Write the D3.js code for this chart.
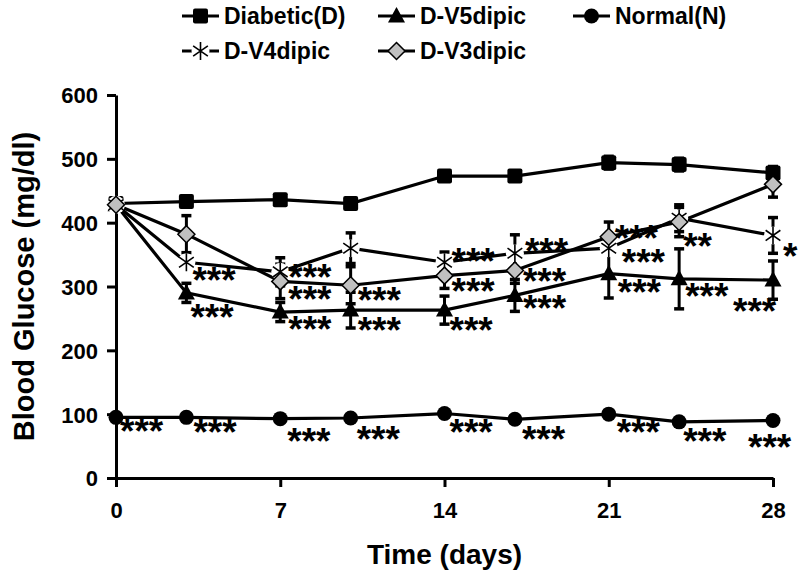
<!DOCTYPE html>
<html><head><meta charset="utf-8">
<script src="https://cdn.jsdelivr.net/npm/d3@7"></script>
<style>
body{margin:0;background:#fff}
text{font-family:"Liberation Sans",Arial,sans-serif;font-weight:bold;fill:#000}
</style>
</head><body>
<svg id="chart" width="800" height="585"></svg>
<script>
// ---- data ----
const days = [0, 3, 7, 10, 14, 17, 21, 24, 28];
const diabetic = [430, 433, 436, 430, 473, 473, 494, 491, 478];
const diabeticErr = [6, 8, 8, 8, 8, 8, 10, 10, 10];
const v5 = [428, 290, 260, 263, 263, 286, 320, 312, 310];
const v5Err = [0, 15, 15, 28, 22, 25, 38, 47, 30];
const normal = [95, 95, 93, 94, 101, 92, 100, 88, 90];
const normalErr = [3, 3, 3, 3, 3, 3, 3, 3, 3];
const v4 = [428, 338, 323, 360, 338, 352, 360, 407, 380];
const v4Err = [0, 0, 22, 24, 16, 29, 0, 21, 28];
const v3 = [428, 382, 308, 302, 317, 325, 378, 401, 460];
const v3Err = [0, 29, 27, 29, 20, 20, 23, 23, 20];
const seriesNames = ["Diabetic(D)", "D-V5dipic", "Normal(N)", "D-V4dipic", "D-V3dipic"];
const normalSig = ["***", "***", "***", "***", "***", "***", "***", "***", "***"];
const v5Sig = ["", "***", "***", "***", "***", "***", "***", "***", "***"];
const v4Sig = ["", "***", "***", "", "***", "***", "***", "**", "*"];
const v3Sig = ["", "", "***", "***", "***", "***", "***", "", ""];
const xTicks = [0, 7, 14, 21, 28];
const yTicks = [0, 100, 200, 300, 400, 500, 600];
const xTitle = "Time (days)";
const yTitle = "Blood Glucose (mg/dl)";

// ---- layout (pixel offsets of significance labels relative to their point) ----
const sigOffsets = {
  normal: [[4,6],[7,7],[7,14],[6,13],[5,10],[7,12],[8,10],[4,11],[-25,18]],
  v5: [[0,0],[4,16],[8,9],[7,12],[5,12],[8,5],[9,10],[6,9],[-40,23]],
  v4: [[0,0],[6,10],[8,-3],[0,0],[7,-9],[10,-10],[13,6],[4,20],[10,13]],
  v3: [[0,0],[0,0],[8,10],[7,7],[7,7],[8,2],[6,-7],[0,0],[0,0]]
};

const svg = d3.select("#chart");
const x = d3.scaleLinear().domain([0, 28]).range([116, 773]);
const y = d3.scaleLinear().domain([0, 600]).range([478, 95]);

// axes
const gy = svg.append("g").attr("transform", `translate(${x(0)},0)`)
  .call(d3.axisLeft(y).tickValues(yTicks).tickSize(9).tickSizeOuter(0).tickPadding(9));
gy.select(".domain").attr("stroke-width", 3).attr("stroke", "#000");
gy.selectAll(".tick line").attr("stroke-width", 3).attr("stroke", "#000");
gy.selectAll(".tick text").style("font-size", "22px").attr("dy", "0.36em");

const gx = svg.append("g").attr("transform", `translate(0,${y(0)})`)
  .call(d3.axisBottom(x).tickValues(xTicks).tickSize(9).tickSizeOuter(0).tickPadding(15));
gx.select(".domain").attr("stroke-width", 3).attr("stroke", "#000");
gx.selectAll(".tick line").attr("stroke-width", 3).attr("stroke", "#000");
gx.selectAll(".tick text").style("font-size", "22px");

svg.append("text").attr("x", (x(0) + x(28)) / 2).attr("y", 564)
  .attr("text-anchor", "middle").style("font-size", "28px").text(xTitle);
svg.append("text").attr("transform", `translate(34,${(y(0) + y(600)) / 2}) rotate(-90)`)
  .attr("text-anchor", "middle").style("font-size", "29px").text(yTitle);

// marker drawing
function drawMarker(g, type, cx, cy) {
  if (type === "square") {
    g.append("rect").attr("x", cx - 7.5).attr("y", cy - 7.5).attr("width", 15).attr("height", 15)
      .attr("rx", 2).attr("fill", "#000");
  } else if (type === "triangle") {
    g.append("path").attr("d", `M${cx},${cy - 9}L${cx + 8.5},${cy + 6.5}L${cx - 8.5},${cy + 6.5}Z`).attr("fill", "#000");
  } else if (type === "circle") {
    g.append("circle").attr("cx", cx).attr("cy", cy).attr("r", 7.5).attr("fill", "#000");
  } else if (type === "star") {
    g.append("circle").attr("cx", cx).attr("cy", cy).attr("r", 9).attr("fill", "#fff");
    const r = 9, a = 0.96;
    g.append("path").attr("d",
      `M${cx},${cy - r}L${cx},${cy + r}` +
      `M${cx - r * Math.sin(a)},${cy - r * Math.cos(a)}L${cx + r * Math.sin(a)},${cy + r * Math.cos(a)}` +
      `M${cx + r * Math.sin(a)},${cy - r * Math.cos(a)}L${cx - r * Math.sin(a)},${cy + r * Math.cos(a)}`)
      .attr("stroke", "#000").attr("stroke-width", 1.6).attr("fill", "none");
  } else if (type === "diamond") {
    g.append("path").attr("d", `M${cx},${cy - 8.5}L${cx + 8.5},${cy}L${cx},${cy + 8.5}L${cx - 8.5},${cy}Z`)
      .attr("fill", "#c0c0c0").attr("stroke", "#000").attr("stroke-width", 1.5);
  }
}

const series = [
  {key: "diabetic", vals: diabetic, err: diabeticErr, marker: "square", sig: null},
  {key: "v5", vals: v5, err: v5Err, marker: "triangle", sig: v5Sig},
  {key: "normal", vals: normal, err: normalErr, marker: "circle", sig: normalSig},
  {key: "v4", vals: v4, err: v4Err, marker: "star", sig: v4Sig},
  {key: "v3", vals: v3, err: v3Err, marker: "diamond", sig: v3Sig}
];

const line = d3.line().x(d => x(d[0])).y(d => y(d[1]));
const gLines = svg.append("g");
const gErr = svg.append("g");
const gMarks = svg.append("g");
const gSig = svg.append("g");

series.forEach(s => {
  const pts = days.map((d, i) => [d, s.vals[i]]);
  gLines.append("path").attr("d", line(pts)).attr("fill", "none")
    .attr("stroke", "#000").attr("stroke-width", 3.2);
  pts.forEach((p, i) => {
    const e = s.err[i];
    if (e > 0) {
      const px = x(p[0]);
      gErr.append("line").attr("x1", px).attr("x2", px).attr("y1", y(p[1] - e)).attr("y2", y(p[1] + e))
        .attr("stroke", "#000").attr("stroke-width", 3);
      [p[1] - e, p[1] + e].forEach(v => {
        gErr.append("line").attr("x1", px - 5).attr("x2", px + 5).attr("y1", y(v)).attr("y2", y(v))
          .attr("stroke", "#000").attr("stroke-width", 3.5);
      });
    }
  });
});
series.forEach(s => {
  days.forEach((d, i) => drawMarker(gMarks, s.marker, x(d), y(s.vals[i])));
});
series.forEach(s => {
  if (!s.sig) return;
  s.sig.forEach((t, i) => {
    if (!t) return;
    const off = sigOffsets[s.key][i];
    gSig.append("text").attr("x", x(days[i]) + off[0]).attr("y", y(s.vals[i]) + off[1] + 21)
      .style("font-size", "37px").text(t);
  });
});

// legend
const legendItems = [
  {name: seriesNames[0], marker: "square", lx: 182, ly: 16},
  {name: seriesNames[1], marker: "triangle", lx: 378, ly: 16},
  {name: seriesNames[2], marker: "circle", lx: 573, ly: 16},
  {name: seriesNames[3], marker: "star", lx: 182, ly: 51},
  {name: seriesNames[4], marker: "diamond", lx: 378, ly: 51}
];
const gLeg = svg.append("g");
legendItems.forEach(it => {
  gLeg.append("line").attr("x1", it.lx).attr("x2", it.lx + 37).attr("y1", it.ly).attr("y2", it.ly)
    .attr("stroke", "#000").attr("stroke-width", 3);
  drawMarker(gLeg, it.marker, it.lx + 18.5, it.ly);
  gLeg.append("text").attr("x", it.lx + 42).attr("y", it.ly + 8).style("font-size", "23px").text(it.name);
});
</script>
</body></html>
